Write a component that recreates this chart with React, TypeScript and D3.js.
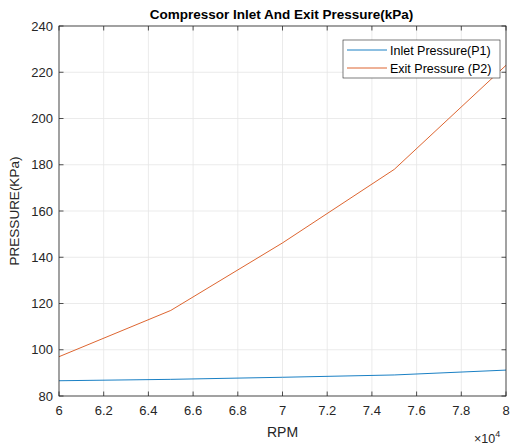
import React from "react";
import * as d3 from "d3";

const rpm = [60000, 65000, 70000, 75000, 80000];
const inletPressure = [86.6, 87.2, 88.1, 89.1, 91.2];
const exitPressure = [97, 117, 146.2, 178, 223];
const xTicks = [60000, 62000, 64000, 66000, 68000, 70000, 72000, 74000, 76000, 78000, 80000];
const yTicks = [80, 100, 120, 140, 160, 180, 200, 220, 240];
const seriesNames = ["Inlet Pressure(P1)", "Exit Pressure (P2)"];
const seriesColors = ["#0072BD", "#D95319"];

const W = 513;
const H = 448;
const M = { left: 59, right: 506, top: 26, bottom: 396 };
const FONT = "'Liberation Sans', Arial, Helvetica, sans-serif";

export default function App() {
  const x = d3.scaleLinear().domain([60000, 80000]).range([M.left, M.right]);
  const y = d3.scaleLinear().domain([80, 240]).range([M.bottom, M.top]);
  const line = d3
    .line<number>()
    .x((_, i) => x(rpm[i]))
    .y((d) => y(d));
  const series = [inletPressure, exitPressure];
  const tickLen = 4.5;
  const axisColor = "#262626";

  return (
    <svg
      width={W}
      height={H}
      style={{ position: "absolute", left: 0, top: 0, background: "#fff" }}
      fontFamily={FONT}
    >
      <rect x={0} y={0} width={W} height={H} fill="#fff" />
      {/* grid */}
      {xTicks.map((t) => (
        <line key={"gx" + t} x1={x(t)} x2={x(t)} y1={M.top} y2={M.bottom} stroke="#e6e6e6" strokeWidth={0.8} />
      ))}
      {yTicks.map((t) => (
        <line key={"gy" + t} x1={M.left} x2={M.right} y1={y(t)} y2={y(t)} stroke="#e6e6e6" strokeWidth={0.8} />
      ))}
      {/* series */}
      {series.map((s, i) => (
        <path key={"s" + i} d={line(s) || ""} fill="none" stroke={seriesColors[i]} strokeWidth={0.9} />
      ))}
      {/* box */}
      <rect
        x={M.left}
        y={M.top}
        width={M.right - M.left}
        height={M.bottom - M.top}
        fill="none"
        stroke={axisColor}
        strokeWidth={0.8}
      />
      {/* ticks */}
      {xTicks.map((t) => (
        <g key={"tx" + t}>
          <line x1={x(t)} x2={x(t)} y1={M.bottom} y2={M.bottom - tickLen} stroke={axisColor} strokeWidth={0.8} />
          <line x1={x(t)} x2={x(t)} y1={M.top} y2={M.top + tickLen} stroke={axisColor} strokeWidth={0.8} />
          <text x={x(t)} y={M.bottom + 19} textAnchor="middle" fontSize={13} fill={axisColor}>
            {String(t / 10000)}
          </text>
        </g>
      ))}
      {yTicks.map((t) => (
        <g key={"ty" + t}>
          <line x1={M.left} x2={M.left + tickLen} y1={y(t)} y2={y(t)} stroke={axisColor} strokeWidth={0.8} />
          <line x1={M.right} x2={M.right - tickLen} y1={y(t)} y2={y(t)} stroke={axisColor} strokeWidth={0.8} />
          <text x={M.left - 6} y={y(t) + 4.5} textAnchor="end" fontSize={13} fill={axisColor}>
            {String(t)}
          </text>
        </g>
      ))}
      {/* exponent */}
      <text x={474} y={443} fontSize={12.5} fill={axisColor}>
        ×10
        <tspan dy={-6} fontSize={9}>4</tspan>
      </text>
      {/* labels */}
      <text x={(M.left + M.right) / 2} y={437} textAnchor="middle" fontSize={14} fill={axisColor}>
        RPM
      </text>
      <text
        transform={`translate(${19},${(M.top + M.bottom) / 2}) rotate(-90)`}
        textAnchor="middle"
        fontSize={13.5}
        fill={axisColor}
      >
        PRESSURE(KPa)
      </text>
      <text x={(M.left + M.right) / 2 - 1} y={19} textAnchor="middle" fontSize={13.5} fontWeight="bold" fill="#000">
        Compressor Inlet And Exit Pressure(kPa)
      </text>
      {/* legend */}
      <rect x={343} y={40} width={157} height={38} fill="#fff" stroke={axisColor} strokeWidth={0.6} />
      {seriesNames.map((n, i) => (
        <g key={"lg" + i}>
          <line x1={347} x2={387} y1={50 + i * 18} y2={50 + i * 18} stroke={seriesColors[i]} strokeWidth={0.9} />
          <text x={390} y={54.5 + i * 18} fontSize={12.5} fill="#000">
            {n}
          </text>
        </g>
      ))}
    </svg>
  );
}
